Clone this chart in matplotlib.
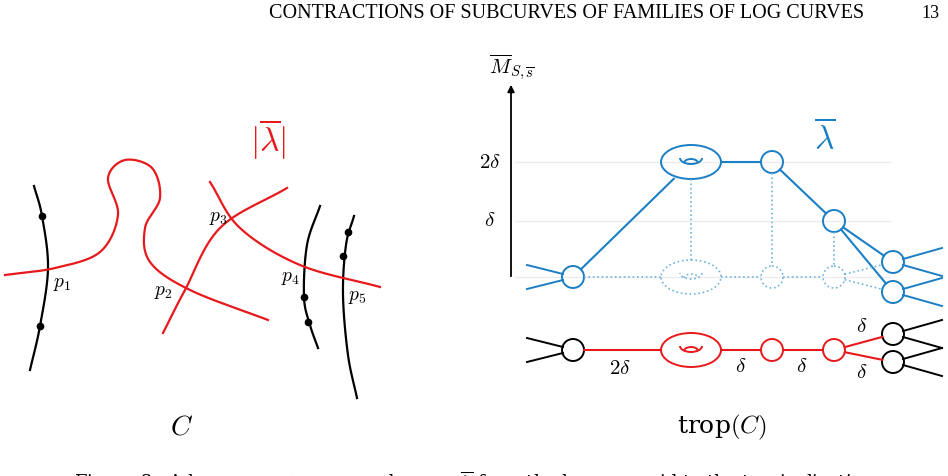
import matplotlib.pyplot as plt
from matplotlib.patches import Ellipse, Circle, Arc
import numpy as np

plt.rcParams['mathtext.fontset'] = 'cm'
plt.rcParams['font.family'] = 'DejaVu Serif'

BLUE = '#1a7fc4'
LBLUE = '#6fb3e0'
RED = '#e8191c'

# curves on the left (pixel coordinates of control points)
black1 = [(34, 186), (42, 216), (48, 268), (40, 326), (30, 370)]
black1_dots = [(42, 216), (40, 326)]
red1 = [(5, 275), (55, 268), (100, 252), (118, 215), (108, 178), (125, 160),
        (152, 168), (160, 198), (145, 228), (150, 262), (190, 290), (268, 320)]
red2 = [(163, 333), (185, 290), (220, 228), (287, 188)]
red3 = [(210, 182), (240, 228), (300, 265), (380, 287)]
black2 = [(320, 206), (307, 245), (304, 297), (310, 325), (318, 348)]
black2_dots = [(304, 297), (308, 322)]
black3 = [(354, 216), (346, 245), (343, 295), (348, 355), (357, 398)]
black3_dots = [(348, 232), (343, 256)]
p_labels = ['$p_1$', '$p_2$', '$p_3$', '$p_4$', '$p_5$']
p_pos = [(62, 284), (163, 292), (218, 218), (290, 278), (357, 297)]

# tropical picture
y_ticks = [162, 221]
y_tick_labels = ['$2\\delta$', '$\\delta$']
blue_nodes = [(573, 277), (772, 162), (834, 221), (893, 262), (893, 292)]
torus_top = (691, 162)
dot_nodes = [(772, 277), (834, 277)]
torus_bottom = (691, 277)
red_nodes = [(772, 350), (834, 350)]
torus_red = (691, 350)
black_nodes = [(573, 350), (893, 334), (893, 362)]
edge_labels = ['$2\\delta$', '$\\delta$', '$\\delta$', '$\\delta$', '$\\delta$']
edge_label_pos = [(620, 368), (741, 367), (802, 367), (862, 327), (862, 373)]

R = 11
EW, EH = 60, 34


def smooth(pts, n=30):
    p = np.array(pts, float)
    p = np.vstack([2 * p[0] - p[1], p, 2 * p[-1] - p[-2]])
    out = []
    for i in range(1, len(p) - 2):
        p0, p1, p2, p3 = p[i - 1], p[i], p[i + 1], p[i + 2]
        for t in np.linspace(0, 1, n, endpoint=False):
            out.append(0.5 * (2 * p1 + (-p0 + p2) * t + (2 * p0 - 5 * p1 + 4 * p2 - p3) * t ** 2
                              + (-p0 + 3 * p1 - 3 * p2 + p3) * t ** 3))
    out.append(p[-2])
    return np.array(out)


fig = plt.figure(figsize=(9.48, 4.76), dpi=100)
ax = fig.add_axes([0, 0, 1, 1])
ax.set_xlim(0, 948)
ax.set_ylim(476, 0)
ax.axis('off')

ax.text(567, 13, 'CONTRACTIONS OF SUBCURVES OF FAMILIES OF LOG CURVES', ha='center', va='center',
        fontsize=14.5, family='Liberation Serif')
ax.text(930, 13, '13', ha='center', va='center', fontsize=13, family='Liberation Serif')

for c, col in [(black1, 'k'), (black2, 'k'), (black3, 'k'), (red1, RED), (red2, RED), (red3, RED)]:
    s = smooth(c)
    ax.plot(s[:, 0], s[:, 1], color=col, lw=1.6)
for d in black1_dots + black2_dots + black3_dots:
    ax.plot(*d, 'ko', ms=4.5)
for lab, (x, y) in zip(p_labels, p_pos):
    ax.text(x, y, lab, ha='center', va='center', fontsize=14)
ax.text(268, 140, '$|\\overline{\\lambda}|$', color=RED, ha='center', va='center', fontsize=24)
ax.text(182, 427, '$C$', ha='center', va='center', fontsize=20)

# axis
ax.annotate('', xy=(511, 82), xytext=(511, 279),
            arrowprops=dict(arrowstyle='-|>', color='k', lw=1.3, mutation_scale=10))
ax.text(512, 68, '$\\overline{M}_{S,\\overline{s}}$', ha='center', va='center', fontsize=15)
for y, lab in zip(y_ticks, y_tick_labels):
    ax.plot([515, 890], [y, y], color='#ececec', lw=1, zorder=0)
    ax.text(490, y, lab, ha='center', va='center', fontsize=15)
ax.plot([515, 890], [277, 277], color='#ececec', lw=1, zorder=0)
ax.text(825, 138, '$\\overline{\\lambda}$', color=BLUE, ha='center', va='center', fontsize=24)
ax.text(722, 427, 'trop$(C)$', ha='center', va='center', fontsize=18, family='DejaVu Serif')


def torus(c, col, ls='-', lw=1.4):
    ax.add_patch(Ellipse(c, EW, EH, fill=False, ec=col, lw=lw, ls=ls))
    ax.add_patch(Arc((c[0], c[1] - 4), 22, 12, theta1=0, theta2=180, ec=col, lw=lw, ls=ls))
    ax.add_patch(Arc((c[0], c[1] + 1), 14, 8, theta1=180, theta2=360, ec=col, lw=lw, ls=ls))


def circ(c, col, ls='-', lw=1.4):
    ax.add_patch(Circle(c, R, fill=False, ec=col, lw=lw, ls=ls))


def legs(c, side, col):
    x, y = c
    if side < 0:
        ax.plot([527, x - R + 1], [y - 12, y - 3], color=col, lw=1.4)
        ax.plot([527, x - R + 1], [y + 12, y + 3], color=col, lw=1.4)
    else:
        ax.plot([x + R - 1, 942], [y - 3, y - 14], color=col, lw=1.4)
        ax.plot([x + R - 1, 942], [y + 3, y + 14], color=col, lw=1.4)


def seg(a, b, col, ls='-', lw=1.5, ra=R, rb=R):
    a, b = np.array(a, float), np.array(b, float)
    u = (b - a) / np.linalg.norm(b - a)
    p, q = a + u * ra, b - u * rb
    ax.plot([p[0], q[0]], [p[1], q[1]], color=col, lw=lw, ls=ls)


# blue tropical curve
n0, n1, n2, n3, n4 = blue_nodes
seg(n0, torus_top, BLUE, rb=24)
seg(torus_top, n1, BLUE, ra=EW / 2)
seg(n1, n2, BLUE)
seg(n2, n3, BLUE)
seg(n2, n4, BLUE)
torus(torus_top, BLUE)
for n in blue_nodes:
    circ(n, BLUE)
legs(n0, -1, BLUE)
legs(n3, 1, BLUE)
legs(n4, 1, BLUE)
# dotted shadow
for top, bot in [(torus_top, torus_bottom), (n1, dot_nodes[0]), (n2, dot_nodes[1])]:
    seg(top, bot, LBLUE, ls=':', lw=1.2, ra=EH / 2 if top == torus_top else R,
        rb=EH / 2 if bot == torus_bottom else R)
seg(n0, torus_bottom, LBLUE, ls=':', lw=1.2, rb=EW / 2)
seg(torus_bottom, dot_nodes[0], LBLUE, ls=':', lw=1.2, ra=EW / 2)
seg(dot_nodes[0], dot_nodes[1], LBLUE, ls=':', lw=1.2)
seg(dot_nodes[1], n3, LBLUE, ls=':', lw=1.2)
seg(dot_nodes[1], n4, LBLUE, ls=':', lw=1.2)
torus(torus_bottom, LBLUE, ls=':', lw=1.2)
for n in dot_nodes:
    circ(n, LBLUE, ls=':', lw=1.2)

# red / black tropical curve
b0, b1, b2 = black_nodes
r1, r2 = red_nodes
seg(b0, torus_red, RED, rb=EW / 2)
seg(torus_red, r1, RED, ra=EW / 2)
seg(r1, r2, RED)
seg(r2, b1, RED)
seg(r2, b2, RED)
torus(torus_red, RED)
for n in red_nodes:
    circ(n, RED)
for n in black_nodes:
    circ(n, 'k')
legs(b0, -1, 'k')
legs(b1, 1, 'k')
legs(b2, 1, 'k')
for lab, (x, y) in zip(edge_labels, edge_label_pos):
    ax.text(x, y, lab, ha='center', va='center', fontsize=15)

ax.text(474, 482, 'Figure 3.  A log curve $C$ over $S$ and a map $\\overline{\\lambda}$ from the base monoid to the tropicalization',
        ha='center', va='center', fontsize=13)

fig.savefig('out.png', dpi=100)
